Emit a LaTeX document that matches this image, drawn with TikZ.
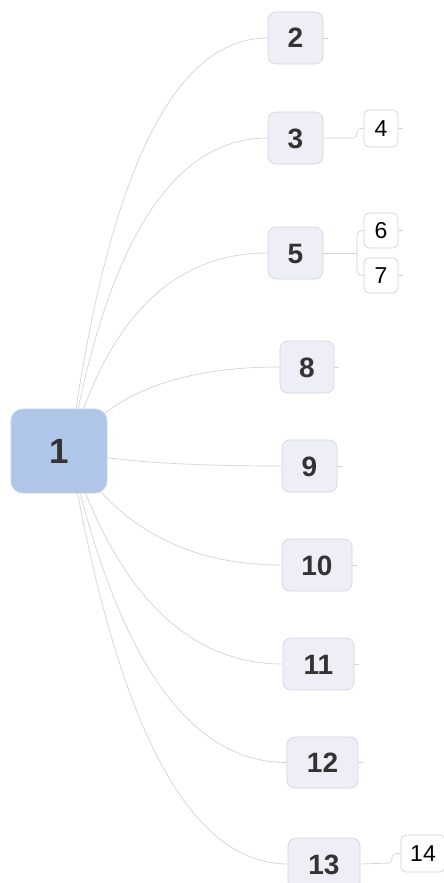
\documentclass[tikz,border=0pt]{standalone}
\usepackage{fontspec}
\setmainfont{Liberation Sans}
\usetikzlibrary{backgrounds,calc}
\definecolor{rootfill}{RGB}{176,198,232}
\definecolor{rootdraw}{RGB}{198,211,232}
\definecolor{topicfill}{RGB}{237,238,246}
\definecolor{topicdraw}{RGB}{214,214,224}
\definecolor{subdraw}{RGB}{210,210,210}
\definecolor{edgecol}{RGB}{212,212,212}
\definecolor{txt}{RGB}{51,51,51}
\begin{document}
\begin{tikzpicture}[x=1pt,y=-1pt,
  rootbox/.style={draw=rootdraw, fill=rootfill, rounded corners=12pt,
    minimum width=96pt, minimum height=84pt, inner sep=0pt, text=txt,
    font=\fontsize{35}{35}\selectfont\bfseries, text height=25pt, text depth=0pt,
    line width=0.8pt},
  topicbox/.style={draw=topicdraw, fill=topicfill, rounded corners=8pt,
    minimum height=52pt, inner sep=0pt, text=txt,
    font=\fontsize{28}{28}\selectfont\bfseries, text height=20pt, text depth=0pt,
    line width=0.7pt},
  subbox/.style={draw=subdraw, fill=white, rounded corners=5pt,
    minimum width=34pt, minimum height=36pt, inner sep=0pt, text=black,
    font=\fontsize{23}{23}\selectfont, text height=16.5pt, text depth=0pt,
    line width=0.7pt},
  link/.style={draw=edgecol, line width=0.7pt},
  stub/.style={draw=edgecol, line width=0.7pt}]
\useasboundingbox (0,0) rectangle (444,883);

% nodes
\node[rootbox] (n1) at (59,451) {1};
\node[topicbox, minimum width=55pt] (n2) at (295.5,38) {2};
\node[topicbox, minimum width=55pt] (n3) at (295.5,138) {3};
\node[subbox, minimum height=37pt] (n4) at (381,128.5) {4};
\node[topicbox, minimum width=55pt] (n5) at (295.5,253) {5};
\node[subbox, minimum height=35pt] (n6) at (381,230.5) {6};
\node[subbox, minimum height=35pt] (n7) at (381,275.5) {7};
\node[topicbox, minimum width=54pt] (n8) at (307,367) {8};
\node[topicbox, minimum width=55pt] (n9) at (309.5,466) {9};
\node[topicbox, minimum width=70pt] (n10) at (317,565) {10};
\node[topicbox, minimum width=71pt] (n11) at (318.5,664) {11};
\node[topicbox, minimum width=71pt, minimum height=51pt] (n12) at (322.5,762.5) {12};
\node[topicbox, minimum width=72pt] (n13) at (324,864) {13};
\node[subbox, minimum width=44pt, minimum height=37pt] (n14) at (423,853.5) {14};

\begin{pgfonlayer}{background}
\fill[white] (0,0) rectangle (444,883);
\coordinate (hub) at ([xshift=11pt]n1.center);
% main branches
\draw[link] (hub) .. controls (106.7,175.7) and (172.7,38) .. (n2.west);
\draw[link] (hub) .. controls (106.7,242.3) and (172.7,138) .. (n3.west);
\draw[link] (hub) .. controls (106.7,319) and (172.7,253) .. (n5.west);
\draw[link] (hub) .. controls (106.7,395) and (176.7,367) .. (n8.west);
\draw[link] (hub) .. controls (111.3,461) and (182,466) .. (n9.west);
\draw[link] (hub) .. controls (116.7,527) and (187.3,565) .. (n10.west);
\draw[link] (hub) .. controls (116.7,593) and (187.7,664) .. (n11.west);
\draw[link] (hub) .. controls (116.7,658.7) and (189,762.5) .. (n12.west);
\draw[link] (hub) .. controls (116.7,726.3) and (189.3,864) .. (n13.west);
\end{pgfonlayer}

% sub branches
\coordinate (j3) at (357,138);
\draw[link, rounded corners=4pt] (n4.west) -| (j3) -- (n3.east);
\coordinate (j5) at (357,253);
\draw[link, rounded corners=5pt] (n6.west) -| (j5);
\draw[link, rounded corners=5pt] (n7.west) -| (j5);
\draw[link] (n5.east) -- (j5);
\coordinate (j13) at (392,863);
\draw[link, rounded corners=4pt] (n14.west) -| (j13) -- (n13.east);

% collapse stubs
\foreach \s in {n2,n4,n6,n7,n8,n9,n10,n11,n12}{
  \draw[stub] (\s.east) -- ++(5,0);
}
\end{tikzpicture}
\end{document}
